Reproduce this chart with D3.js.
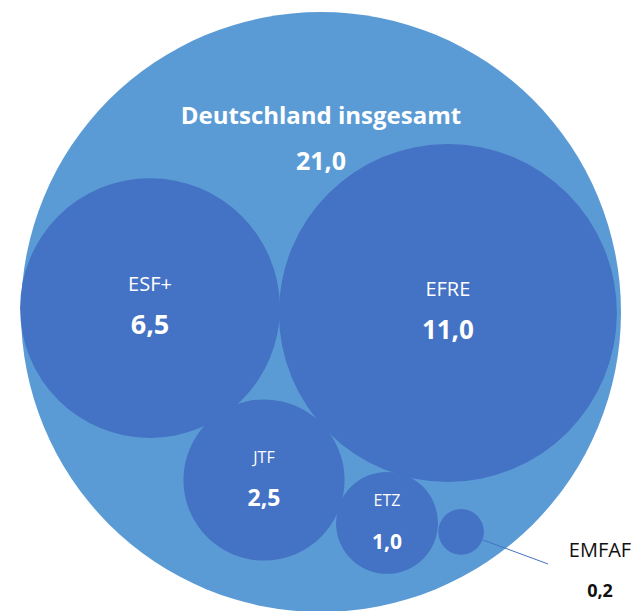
<!DOCTYPE html>
<html>
<head>
<meta charset="utf-8">
<script src="https://cdn.jsdelivr.net/npm/d3@7"></script>
<style>
  html, body { margin: 0; padding: 0; background: #fff; }
  svg { display: block; font-family: "Open Sans", "Noto Sans", sans-serif; }
</style>
</head>
<body>
<div id="chart"></div>
<script>
// data (Mrd. Euro)
const totalName = "Deutschland insgesamt";
const totalValue = 21.0;
const funds = ["ESF+", "EFRE", "JTF", "ETZ", "EMFAF"];
const fundValues = [6.5, 11.0, 2.5, 1.0, 0.2];

// layout: bubble centres in units of the outer circle radius
const fundPos = [[-0.57, -0.013], [0.423, 0.003], [-0.19, 0.56], [0.22, 0.703], [0.467, 0.733]];
const nameSize = [20, 20, 16, 16, 20];
const valueSize = [27, 26, 23, 21, 18];

const width = 632, height = 611;
const fmt = v => d3.format(".1f")(v).replace(".", ",");

const svg = d3.select("#chart").append("svg")
    .attr("width", width)
    .attr("height", height);

// unit coordinates -> pixels
const x = d3.scaleLinear().domain([-1, 1]).range([21, 621]);
const y = d3.scaleLinear().domain([-1, 1]).range([12, 612]);
const r = d3.scaleSqrt().domain([0, 11]).range([0, 169]);

const nodes = funds.map((name, i) => ({
    name: name,
    value: fundValues[i],
    cx: x(fundPos[i][0]),
    cy: y(fundPos[i][1]),
    r: r(fundValues[i]),
    nameSize: nameSize[i],
    valueSize: valueSize[i]
}));

// outer circle
svg.append("circle")
    .attr("cx", x(0))
    .attr("cy", y(0))
    .attr("r", x(1) - x(0))
    .attr("fill", "#5B9BD5");

svg.append("text")
    .attr("x", x(0))
    .attr("y", y(-0.627))
    .attr("text-anchor", "middle")
    .attr("fill", "#fff")
    .attr("font-weight", "bold")
    .attr("font-size", 24)
    .text(totalName);

svg.append("text")
    .attr("x", x(0))
    .attr("y", y(-0.473))
    .attr("text-anchor", "middle")
    .attr("fill", "#fff")
    .attr("font-weight", "bold")
    .attr("font-size", 25)
    .text(fmt(totalValue));

svg.selectAll(".bubble")
    .data(nodes)
    .enter().append("circle")
    .attr("class", "bubble")
    .attr("cx", d => d.cx)
    .attr("cy", d => d.cy)
    .attr("r", d => d.r)
    .attr("fill", "#4472C4");

// labels inside the bubbles (all but the tiny one)
const inside = nodes.filter(d => d.r > 40);
svg.selectAll(".fund-name")
    .data(inside)
    .enter().append("text")
    .attr("class", "fund-name")
    .attr("x", d => d.cx)
    .attr("y", d => d.cy - 17)
    .attr("text-anchor", "middle")
    .attr("fill", "#fff")
    .attr("font-size", d => d.nameSize)
    .text(d => d.name);

svg.selectAll(".fund-value")
    .data(inside)
    .enter().append("text")
    .attr("class", "fund-value")
    .attr("x", d => d.cx)
    .attr("y", d => d.cy + 26)
    .attr("text-anchor", "middle")
    .attr("fill", "#fff")
    .attr("font-weight", "bold")
    .attr("font-size", d => d.valueSize)
    .text(d => fmt(d.value));

// callout for the small bubble
const outside = nodes.filter(d => d.r <= 40);
outside.forEach(d => {
    const ang = Math.atan2(y(0.84) - d.cy, x(0.757) - d.cx);
    svg.append("line")
        .attr("x1", d.cx + d.r * Math.cos(ang))
        .attr("y1", d.cy + d.r * Math.sin(ang))
        .attr("x2", x(0.757))
        .attr("y2", y(0.84))
        .attr("stroke", "#4472C4")
        .attr("stroke-width", 1);
    svg.append("text")
        .attr("x", x(0.93))
        .attr("y", y(0.817))
        .attr("text-anchor", "middle")
        .attr("fill", "#111")
        .attr("font-size", d.nameSize)
        .text(d.name);
    svg.append("text")
        .attr("x", x(0.93))
        .attr("y", y(0.95))
        .attr("text-anchor", "middle")
        .attr("fill", "#111")
        .attr("font-weight", "bold")
        .attr("font-size", d.valueSize)
        .text(fmt(d.value));
});
</script>
</body>
</html>
